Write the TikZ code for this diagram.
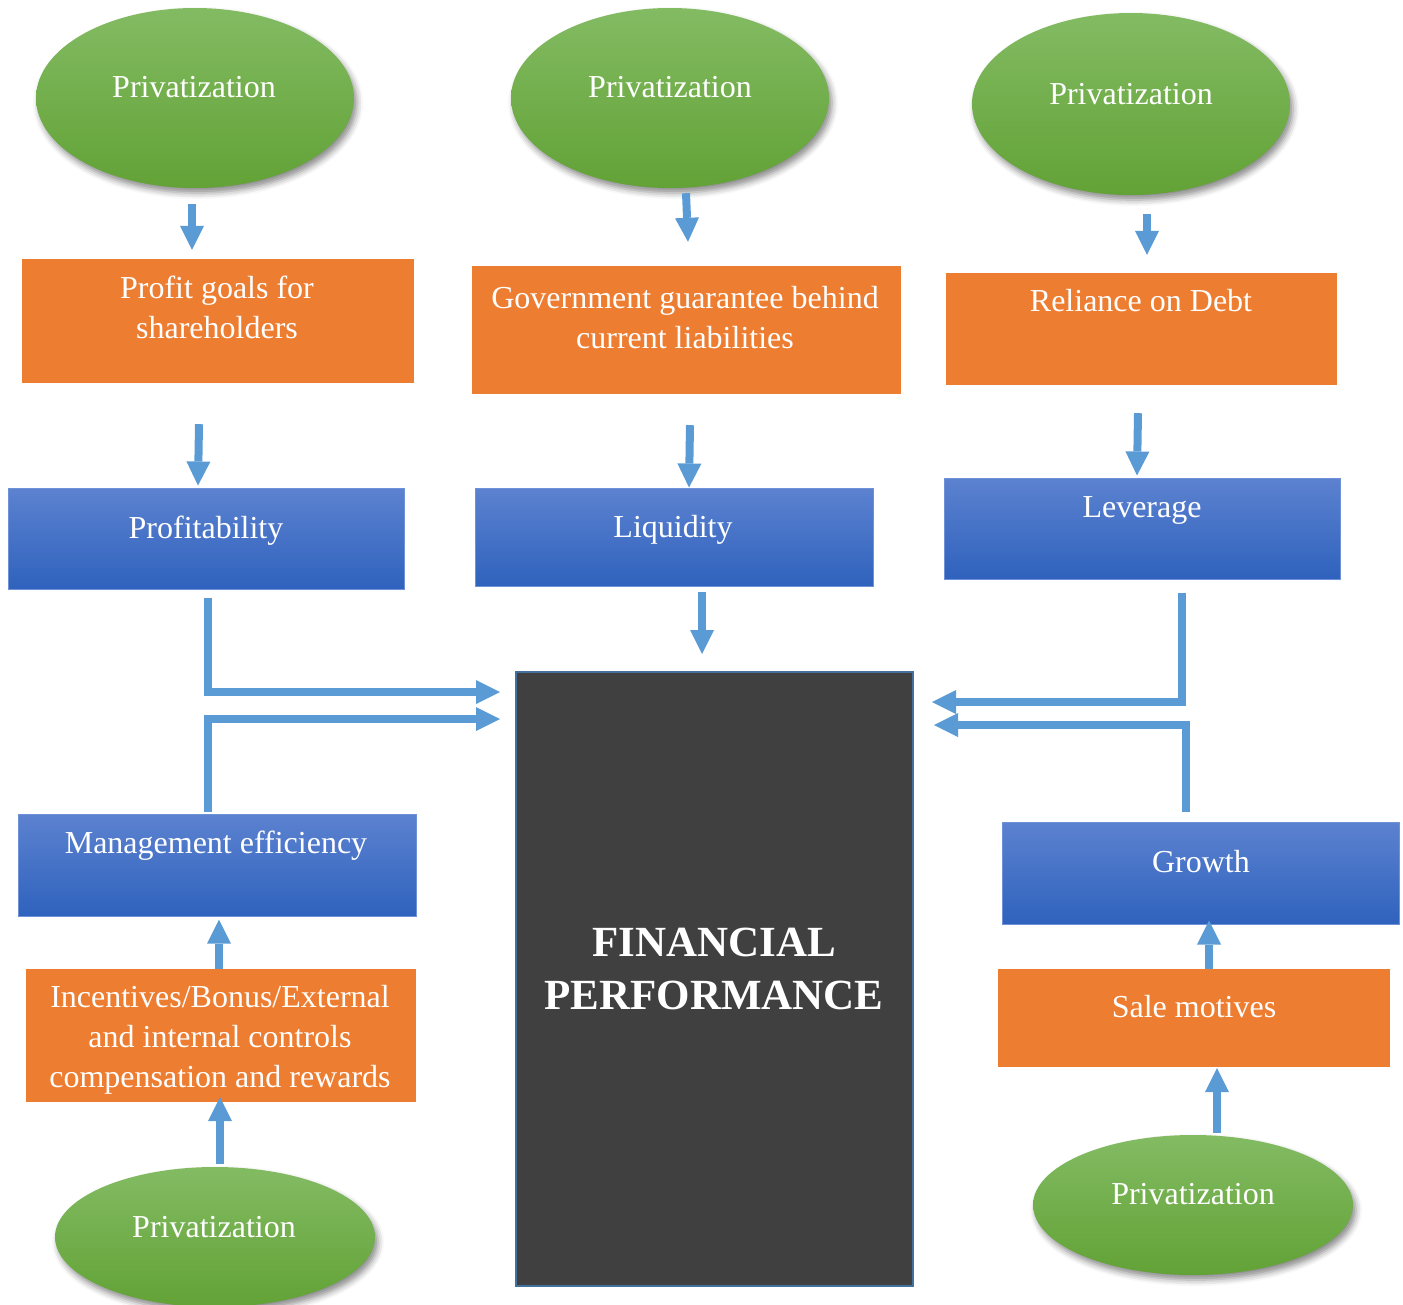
\documentclass[tikz,border=0pt]{standalone}
\usepackage{fontspec}
\setmainfont{Liberation Serif}
\usetikzlibrary{arrows.meta,shapes.geometric,shadows.blur,calc}
\definecolor{arrblue}{HTML}{5B9BD5}
\definecolor{orng}{HTML}{ED7D31}
\definecolor{gtop}{RGB}{131,187,99}
\definecolor{gbot}{RGB}{98,162,54}
\definecolor{btop}{RGB}{92,130,208}
\definecolor{bbot}{RGB}{47,98,189}
\definecolor{bedge}{RGB}{110,145,215}
\definecolor{darkfill}{HTML}{404040}
\definecolor{dedge}{HTML}{41719C}
\begin{document}
\begin{tikzpicture}[x=1pt,y=-1pt,
 ell/.style={ellipse, inner sep=0pt, top color=gtop, bottom color=gbot, draw=none,
   blur shadow={shadow xshift=3pt, shadow yshift=-5pt, shadow blur radius=6pt, shadow opacity=45},
   minimum width=318pt, minimum height=180pt},
 obox/.style={rectangle, inner sep=0pt, fill=orng},
 bbox/.style={rectangle, inner sep=0pt, top color=btop, bottom color=bbot, draw=bedge, line width=1pt},
 txt/.style={text=white, font=\fontsize{32}{40}\selectfont, align=center, inner sep=0pt, anchor=base},
 arr/.style={draw=arrblue, line width=8pt, line join=miter,
   -{Triangle[length=24pt,width=24pt,line width=0pt,fill=arrblue]}}
]
\useasboundingbox (0,0) rectangle (1403,1304);

% ellipses
\node[ell] (e1) at (195,98) {};
\node[ell] (e2) at (670,98) {};
\node[ell, minimum height=182pt] (e3) at (1131,104) {};
\node[ell, minimum width=320pt, minimum height=140pt] (e4) at (215,1237) {};
\node[ell, minimum width=320pt, minimum height=140pt] (e5) at (1193,1205) {};
\node[txt] (e1t) at (194,97) {Privatization};
\node[txt] (e2t) at (670,97) {Privatization};
\node[txt] (e3t) at (1131,104) {Privatization};
\node[txt] (e4t) at (214,1237) {Privatization};
\node[txt] (e5t) at (1193,1204) {Privatization};

% orange boxes
\node[obox, minimum width=392pt, minimum height=124pt] (o1) at (218,321) {};
\node[obox, minimum width=429pt, minimum height=128pt] (o2) at (686.5,330) {};
\node[obox, minimum width=391pt, minimum height=112pt] (o3) at (1141.5,329) {};
\node[obox, minimum width=390pt, minimum height=133pt] (o4) at (221,1035.5) {};
\node[obox, minimum width=392pt, minimum height=98pt] (o5) at (1194,1018) {};
\node[txt] (o1t) at (217,338) {Profit goals for\\shareholders};
\node[txt] (o2t) at (685,348) {Government guarantee behind\\current liabilities};
\node[txt] (o3t) at (1141,311) {Reliance on Debt};
\node[txt] (o4t) at (220,1087) {Incentives/Bonus/External\\and internal controls\\compensation and rewards};
\node[txt] (o5t) at (1194,1017) {Sale motives};

% blue boxes
\node[bbox, minimum width=396pt, minimum height=101pt] (b1) at (206,538.5) {};
\node[bbox, minimum width=398pt, minimum height=98pt] (b2) at (674,537) {};
\node[bbox, minimum width=396pt, minimum height=101pt] (b3) at (1142,528.5) {};
\node[bbox, minimum width=398pt, minimum height=102pt] (b4) at (217,865) {};
\node[bbox, minimum width=397pt, minimum height=102pt] (b5) at (1200.5,873) {};
\node[txt] (b1t) at (206,538) {Profitability};
\node[txt] (b2t) at (673,537) {Liquidity};
\node[txt] (b3t) at (1142,517) {Leverage};
\node[txt] (b4t) at (216,853) {Management efficiency};
\node[txt] (b5t) at (1201,872) {Growth};

% central box
\node[rectangle, inner sep=0pt, fill=darkfill, draw=dedge, line width=2pt,
      minimum width=397pt, minimum height=614pt] (d) at (714.5,979) {};
\node[txt, font=\fontsize{43}{53}\selectfont\bfseries] (dt) at (714,1009) {FINANCIAL\\PERFORMANCE};

% straight arrows
\draw[arr] ($(e1.south)+(-3,16)$) -- ($(o1.north)+(-26,-9)$);
\draw[arr] ($(e2.south)+(16,5)$) -- ($(o2.north)+(1.5,-24)$);
\draw[arr] ($(e3.south)+(16,19)$) -- ($(o3.north)+(5.5,-18)$);
\draw[arr] ($(o1.south)+(-19,41)$) -- ($(b1.north)+(-8,-2)$);
\draw[arr] ($(o2.south)+(3.5,31)$) -- ($(b2.north)+(15,0)$);
\draw[arr] ($(o3.south)+(-3.5,28)$) -- ($(b3.north)+(-5,-2)$);
\draw[arr] ($(b2.south)+(28,5)$) -- ($(d.north)+(-12.5,-17)$);
\draw[arr] ($(o4.north)+(-2,0)$) -- ($(b4.south)+(2,3)$);
\draw[arr] ($(e4.north)+(5,-3)$) -- ($(o4.south)+(-1,-5)$);
\draw[arr] ($(o5.north)+(15,0)$) -- ($(b5.south)+(8.5,-4)$);
\draw[arr] ($(e5.north)+(24,-2)$) -- ($(o5.south)+(23,1)$);

% elbow arrows
\draw[arr] ($(b1.south)+(2,8)$) |- ($(d.north west)+(-15,21)$);
\draw[arr] ($(b4.north)+(-9,-2)$) |- ($(d.north west)+(-15,48)$);
\draw[arr] ($(b3.south)+(40,13)$) |- ($(d.north east)+(18,31)$);
\draw[arr] ($(b5.north)+(-14.5,-10)$) |- ($(d.north east)+(20,54)$);
\end{tikzpicture}
\end{document}
